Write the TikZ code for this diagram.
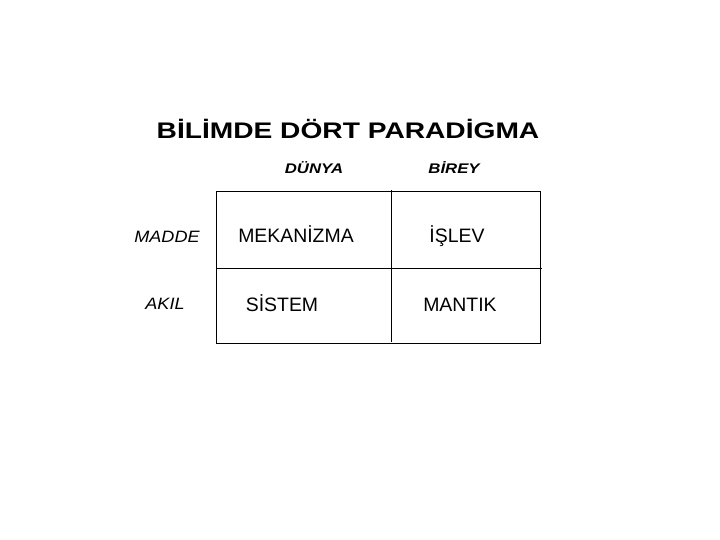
\documentclass[tikz,border=0pt]{standalone}
\usepackage{fontspec}
\setmainfont{Liberation Sans}
\newfontfamily\widetitle[FakeStretch=1.25]{Liberation Sans}
\newfontfamily\widehdr[FakeStretch=1.2]{Liberation Sans}
\newfontfamily\wideside[FakeStretch=1.1]{Liberation Sans}
\usetikzlibrary{positioning}

\begin{document}
\begin{tikzpicture}[
  x=1bp, y=-1bp,
  heading/.style={anchor=base, inner sep=0pt,
    font=\widetitle\bfseries\fontsize{22.6}{26}\selectfont},
  hdr/.style={anchor=base, inner sep=0pt,
    font=\widehdr\bfseries\itshape\fontsize{14}{17}\selectfont},
  side/.style={anchor=base, inner sep=0pt,
    font=\wideside\itshape\fontsize{16.5}{19}\selectfont},
  cellt/.style={anchor=base, inner sep=0pt,
    font=\fontsize{19.5}{23}\selectfont},
  rule/.style={draw=black, line width=1bp},
]
\useasboundingbox (0,0) rectangle (720,540);

% title and headers
\node[heading] (title) at (348,138.5) {BİLİMDE DÖRT PARADİGMA};
\node[hdr] (dunya) at (314,173.5) {DÜNYA};
\node[hdr] (birey) at (454,173.5) {BİREY};
\node[side] (madde) at (167,242.5) {MADDE};
\node[side] (akil) at (165,309) {AKIL};

% table
\coordinate (tl) at (216,192);
\coordinate (br) at (540,343);
\draw[rule] (tl) rectangle (br);
\draw[rule] (216,268.5) -- (542,268.5);
\draw[rule] (391,190) -- (391,342);

\node[cellt] (mekanizma) at (296,242.3) {MEKANİZMA};
\node[cellt] (islev) at (457,242.3) {İŞLEV};
\node[cellt] (sistem) at (282,311.5) {SİSTEM};
\node[cellt] (mantik) at (460,311.5) {MANTIK};

\end{tikzpicture}
\end{document}
